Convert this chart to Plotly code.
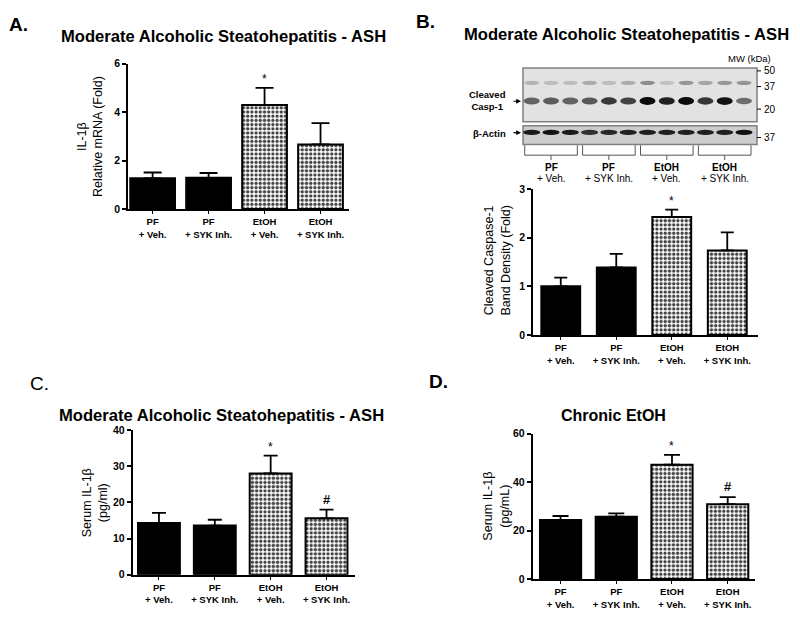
import plotly.graph_objects as go

# The page body adds an 8px margin, so the figure is 792x612 and all
# reference pixel positions are shifted by 8px.
OFF = 8
W, H = 800 - OFF, 620 - OFF
def px(x): return (x - OFF) / W
def py(y): return 1 - (y - OFF) / H

FONT = "Liberation Sans, Arial, sans-serif"

# ---------------- data ----------------
cats = ["PF+Veh", "PF+SYK", "EtOH+Veh", "EtOH+SYK"]
tick_text = ["PF<br>+ Veh.", "PF<br>+ SYK Inh.", "EtOH<br>+ Veh.", "EtOH<br>+ SYK Inh."]
group_top = ["PF", "PF", "EtOH", "EtOH"]
group_bottom = ["+ Veh.", "+ SYK Inh.", "+ Veh.", "+ SYK Inh."]

a_mean = [1.27, 1.29, 4.30, 2.67]
a_sem = [0.24, 0.20, 0.70, 0.88]
a_sig = ["", "", "*", ""]

b_mean = [1.00, 1.39, 2.43, 1.74]
b_sem = [0.18, 0.28, 0.15, 0.37]
b_sig = ["", "", "*", ""]

c_mean = [14.3, 13.6, 28.0, 15.6]
c_sem = [2.8, 1.6, 4.9, 2.4]
c_sig = ["", "", "*", "#"]

d_mean = [24.4, 25.7, 47.2, 30.9]
d_sem = [1.6, 1.4, 4.0, 2.9]
d_sig = ["", "", "*", "#"]

# western blot band intensities (0..1), 12 lanes
casp_upper = [0.18, 0.14, 0.14, 0.22, 0.14, 0.22, 0.35, 0.12, 0.32, 0.25, 0.32, 0.32]
casp_cleaved = [0.55, 0.58, 0.55, 0.60, 0.75, 0.70, 0.95, 0.85, 0.95, 0.75, 0.92, 0.50]
actin = [0.88, 0.92, 0.88, 0.78, 0.82, 0.86, 0.86, 0.86, 0.86, 0.86, 0.86, 0.92]
mw_labels = ["50", "37", "20", "37"]

# ---------------- figure ----------------
fig = go.Figure()

panels = [
    # mean, sem, sig, xaxis, yaxis, xdom(px), ydom(px), xrange, yrange, dtick, barwidth, capw
    (a_mean, a_sem, a_sig, "x", "y", (128, 348.5), (58.7, 207), [-0.44, 3.5], [0, 6], 2, 0.80, 9),
    (b_mean, b_sem, b_sig, "x2", "y2", (533, 757.8), (186.7, 335.3), [-0.5, 3.55], [0, 3], 1, 0.70, 6.5),
    (c_mean, c_sem, c_sig, "x3", "y3", (132.7, 355), (432.3, 580), [-0.47, 3.51], [0, 40], 10, 0.75, 7),
    (d_mean, d_sem, d_sig, "x4", "y4", (532.7, 755), (436, 584.3), [-0.5, 3.49], [0, 60], 20, 0.74, 8),
]

annotations = []
for i, (m, s, sig, xa, ya, xd, yd, xr, yr, dt, bw, cw) in enumerate(panels):
    fig.add_trace(go.Bar(
        x=cats, y=m, xaxis=xa, yaxis=ya, width=bw,
        marker=dict(
            color=["black", "black", "white", "white"],
            line=dict(color="black", width=2),
            pattern=dict(shape=["", "", ".", "."], fgcolor="black", fgopacity=1,
                         fillmode="overlay", size=4.2, solidity=0.5),
        ),
        error_y=dict(type="data", array=s, arrayminus=[0] * 4, symmetric=False,
                     color="black", thickness=1.8, width=cw),
        showlegend=False, hoverinfo="skip",
    ))
    n = "" if i == 0 else str(i + 1)
    fig.layout["xaxis" + n] = dict(
        domain=[px(xd[0]), px(xd[1])], range=xr, anchor=ya,
        type="category", tickvals=cats, ticktext=tick_text,
        showline=True, linecolor="black", linewidth=1.8,
        ticks="outside", ticklen=3, tickwidth=1.2, tickcolor="black",
        showgrid=False, zeroline=False, fixedrange=True,
        tickfont=dict(family=FONT, size=9.5, color="black", weight="bold"),
    )
    fig.layout["yaxis" + n] = dict(
        domain=[py(yd[1]), py(yd[0])], range=yr, anchor=xa, dtick=dt,
        showline=True, linecolor="black", linewidth=1.8,
        ticks="outside", ticklen=4, tickwidth=1.5, tickcolor="black",
        showgrid=False, zeroline=False, fixedrange=True,
        tickfont=dict(family=FONT, size=10.5, color="black", weight="bold"),
    )
    for k in range(4):
        if sig[k]:
            annotations.append(dict(
                x=cats[k], y=m[k] + s[k], xref=xa, yref=ya, text=sig[k],
                showarrow=False, yanchor="bottom", yshift=0 if sig[k] == "*" else 1,
                font=dict(family=FONT, size=12 if sig[k] == "*" else 13, color="black",
                          weight="bold" if sig[k] == "#" else "normal"),
            ))

def txt(x, y, t, size, bold=False, xanchor="center", yanchor="middle", angle=0):
    annotations.append(dict(
        x=px(x), y=py(y), xref="paper", yref="paper", text=t, showarrow=False,
        xanchor=xanchor, yanchor=yanchor, textangle=angle,
        font=dict(family=FONT, size=size, color="black", weight="bold" if bold else "normal"),
    ))

title_ash = "Moderate Alcoholic Steatohepatitis - ASH"
txt(223, 31, title_ash, 16.6, True)
txt(626, 29, title_ash, 16.6, True)
txt(221, 418, title_ash, 16.6, True)
txt(613, 418, "Chronic EtOH", 16, True)

txt(7, 19, "A.", 19, True, xanchor="left")
txt(414, 16, "B.", 19, True, xanchor="left")
txt(28, 385, "C.", 19, False, xanchor="left")
txt(427, 383, "D.", 19, True, xanchor="left")

txt(89.5, 133, "IL-1β<br>Relative mRNA (Fold)", 12.5, angle=-90)
txt(497.5, 260, "Cleaved Caspase-1<br>Band Density (Fold)", 12.5, angle=-90)
txt(95, 507, "Serum IL-1β<br>(pg/ml)", 12.5, angle=-90)
txt(496.5, 510, "Serum IL-1β<br>(pg/mL)", 12.5, angle=-90)

# ---------------- western blot ----------------
shapes = []
bx0, bx1 = 523, 757
up_y0, up_y1 = 63, 118
lo_y0, lo_y1 = 122, 141
lane0, pitch = 531.7, 19.3

def rect(x0, y0, x1, y1, fill, line="#808080", lw=1.5, kind="rect"):
    shapes.append(dict(type=kind, xref="paper", yref="paper",
                       x0=px(x0), x1=px(x1), y0=py(y1), y1=py(y0),
                       fillcolor=fill, line=dict(color=line, width=lw), layer="above"))

rect(bx0, up_y0, bx1, up_y1, "#e2e2e2")
rect(bx0, lo_y0, bx1, lo_y1, "#cdcdcd")

def gray(v):
    g = int(round(220 * (1 - v)))
    return f"rgb({g},{g},{g})"

none = "rgba(0,0,0,0)"
for i in range(12):
    cx = lane0 + i * pitch
    rect(cx - 7.5, 76, cx + 7.5, 80.5, gray(casp_upper[i]), line=none, lw=0, kind="circle")
    rect(cx - 8, 94 - casp_cleaved[i] * 1.3, cx + 8, 99.5 + casp_cleaved[i] * 1.3,
         gray(casp_cleaved[i]), line=none, lw=0, kind="circle")
    rect(cx - 8.5, 126, cx + 8.5, 131.5, gray(actin[i]), line=none, lw=0, kind="circle")

# group brackets and labels
for g in range(4):
    xl = lane0 + 3 * g * pitch - 7
    xr = lane0 + (3 * g + 2) * pitch + 7
    xc = (xl + xr) / 2
    path = (f"M {px(xl)},{py(142)} L {px(xl)},{py(152)} L {px(xr)},{py(152)} L {px(xr)},{py(142)} "
            f"M {px(xc)},{py(152)} L {px(xc)},{py(157)}")
    shapes.append(dict(type="path", xref="paper", yref="paper", path=path,
                       line=dict(color="#555555", width=1)))
    txt(xc, 165, group_top[g], 10, True)
    txt(xc, 176, group_bottom[g], 10, False)

# MW markers
txt(749, 53, "MW (kDa)", 9.5)
for lab, yy in zip(mw_labels, [66, 82, 105, 134]):
    shapes.append(dict(type="line", xref="paper", yref="paper",
                       x0=px(757), x1=px(761), y0=py(yy), y1=py(yy),
                       line=dict(color="black", width=1)))
    txt(761.5, yy, lab, 10, xanchor="left")

# left labels with arrows
txt(508, 96, "Cleaved<br>Casp-1", 9.5, True, xanchor="right")
txt(508, 130, "β-Actin", 9.5, True, xanchor="right")
for yy in (97, 129):
    annotations.append(dict(x=px(521), y=py(yy), xref="paper", yref="paper", text="",
                            showarrow=True, ax=-9, ay=0, arrowhead=2, arrowsize=0.8,
                            arrowwidth=1.2, arrowcolor="black"))

fig.update_layout(
    width=W, height=H, margin=dict(l=0, r=0, t=0, b=0), autosize=False,
    paper_bgcolor="white", plot_bgcolor="white",
    annotations=annotations, shapes=shapes, bargap=0.2,
    font=dict(family=FONT, color="black"),
)

fig.write_html("out.html")
